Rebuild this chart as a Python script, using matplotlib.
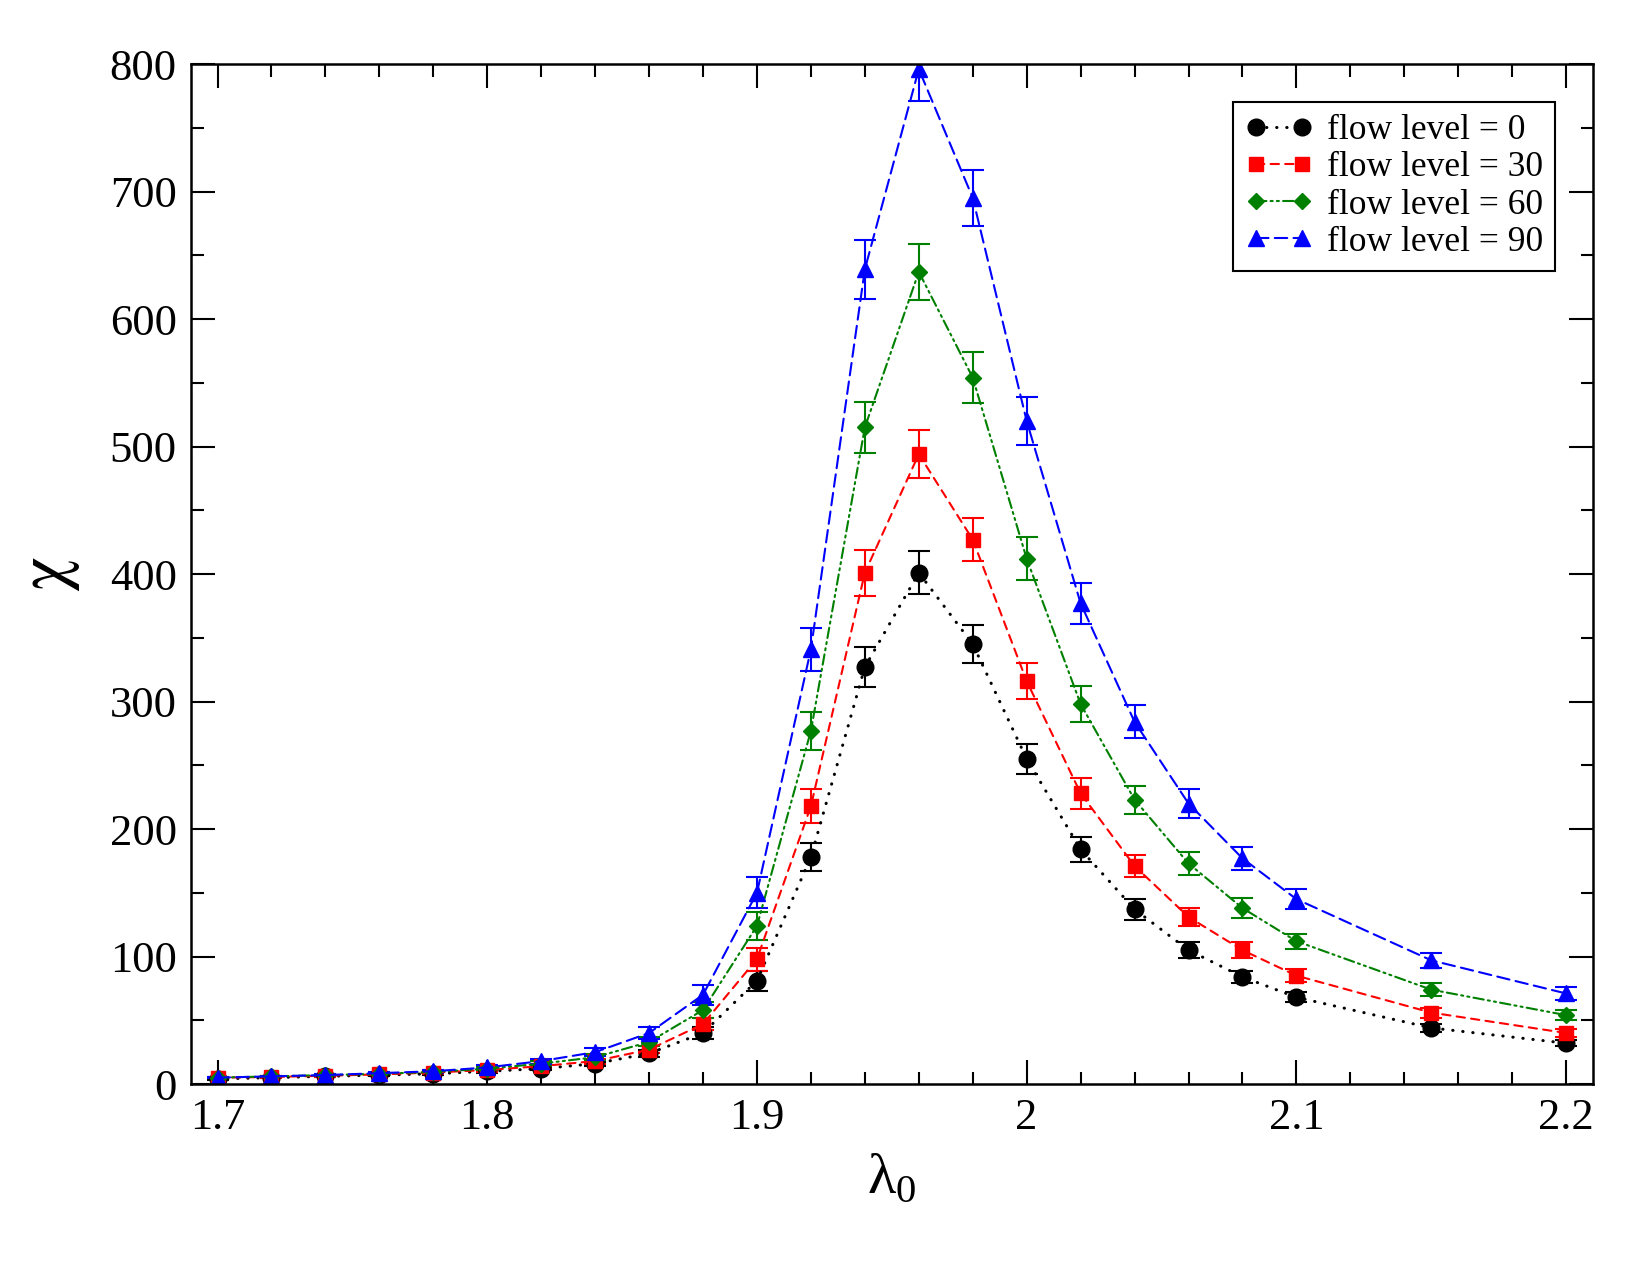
import numpy as np
import matplotlib
matplotlib.use('Agg')
import matplotlib.pyplot as plt
from matplotlib.lines import Line2D
from matplotlib.ticker import MultipleLocator, FuncFormatter

plt.rcParams['font.family'] = ['Liberation Serif', 'DejaVu Serif']
plt.rcParams['mathtext.fontset'] = 'custom'
plt.rcParams['mathtext.rm'] = 'Liberation Serif'

lam = [1.70, 1.72, 1.74, 1.76, 1.78, 1.80, 1.82, 1.84, 1.86, 1.88, 1.90, 1.92,
       1.94, 1.96, 1.98, 2.00, 2.02, 2.04, 2.06, 2.08, 2.10, 2.15, 2.20]

chi_0 = [4, 5, 6, 7, 8, 10, 12, 16, 24, 40, 81, 178,
         327, 401, 345, 255, 184, 137, 105, 84, 68, 44, 32]
err_0 = [0.5, 0.5, 0.6, 0.7, 0.8, 1, 1.2, 1.6, 2.5, 4.5, 8, 11,
         16, 17, 15, 12, 10, 8, 6, 5, 4, 3, 2.5]

chi_30 = [5, 5.5, 6.5, 7.5, 9, 11, 14, 18, 27, 47, 98, 218,
          401, 494, 427, 316, 228, 171, 131, 105, 85, 56, 40]
err_30 = [0.5, 0.6, 0.7, 0.8, 1, 1.2, 1.5, 2, 3, 5, 9, 13,
          18, 19, 17, 14, 12, 9, 7, 6, 5, 4, 3]

chi_60 = [5, 6, 7, 8, 9.5, 12, 16, 21, 33, 58, 124, 277,
          515, 637, 554, 412, 298, 223, 173, 138, 112, 74, 54]
err_60 = [0.5, 0.6, 0.7, 0.9, 1.1, 1.4, 1.8, 2.5, 3.5, 6, 11, 15,
          20, 22, 20, 17, 14, 11, 9, 8, 6, 5, 4]

chi_90 = [5, 6, 7, 8.5, 10, 13, 18, 25, 40, 70, 150, 341,
          639, 796, 695, 520, 377, 284, 220, 177, 145, 97, 71]
err_90 = [0.5, 0.6, 0.8, 1, 1.2, 1.6, 2, 3, 4.5, 8, 12, 17,
          23, 25, 22, 19, 16, 13, 11, 9, 8, 6, 5]

labels = ['flow level = 0', 'flow level = 30', 'flow level = 60', 'flow level = 90']

fig = plt.figure(figsize=(16.5, 12.75), dpi=100)
ax = fig.add_axes([0.1155, 0.1498, 0.85, 0.80])

series = [
    (chi_0, err_0, 'black', 'o', 12, (0, (0.1, 3.2)), 2.2),
    (chi_30, err_30, 'red', 's', 10.5, (0, (4, 3)), 1.5),
    (chi_60, err_60, 'green', 'D', 8.5, (0, (5, 2, 1, 2, 1, 2)), 1.5),
    (chi_90, err_90, 'blue', '^', 11.5, (0, (6, 3)), 1.5),
]
handles = []
for (y, e, c, m, ms, ls, lw), lab in zip(series, labels):
    ax.errorbar(lam, y, yerr=e, color=c, marker=m, markersize=ms, linestyle=ls,
                linewidth=lw, elinewidth=1.5, capsize=8, capthick=1.5,
                dash_capstyle='round')
    handles.append(Line2D([], [], color=c, marker=m, markersize=ms, linestyle=ls,
                          linewidth=lw, dash_capstyle='round', label=lab))

ax.set_xlim(1.69, 2.21)
ax.set_ylim(0, 800)
ax.xaxis.set_major_locator(MultipleLocator(0.1))
ax.xaxis.set_minor_locator(MultipleLocator(0.02))
ax.yaxis.set_major_locator(MultipleLocator(100))
ax.yaxis.set_minor_locator(MultipleLocator(50))
ax.xaxis.set_major_formatter(FuncFormatter(lambda v, p: f'{v:g}'))
ax.tick_params(which='both', direction='in', top=True, right=True, width=1.5,
               labelsize=32)
ax.tick_params(which='major', length=17, pad=10)
ax.tick_params(which='minor', length=9)
for s in ax.spines.values():
    s.set_linewidth(1.8)

ax.set_xlabel(r'λ$_0$', fontsize=42, labelpad=10)
ax.set_ylabel('χ', fontsize=50, labelpad=22, family=['STIXGeneral', 'DejaVu Serif'])

leg = ax.legend(handles=handles, loc='upper right', bbox_to_anchor=(0.973, 0.963),
                fontsize=25.5, numpoints=2, handlelength=1.9, handletextpad=0.4,
                borderpad=0.35, labelspacing=0.12, fancybox=False, framealpha=1,
                edgecolor='black', borderaxespad=0)
leg.get_frame().set_linewidth(1.5)

fig.savefig('out.png', dpi=100)
